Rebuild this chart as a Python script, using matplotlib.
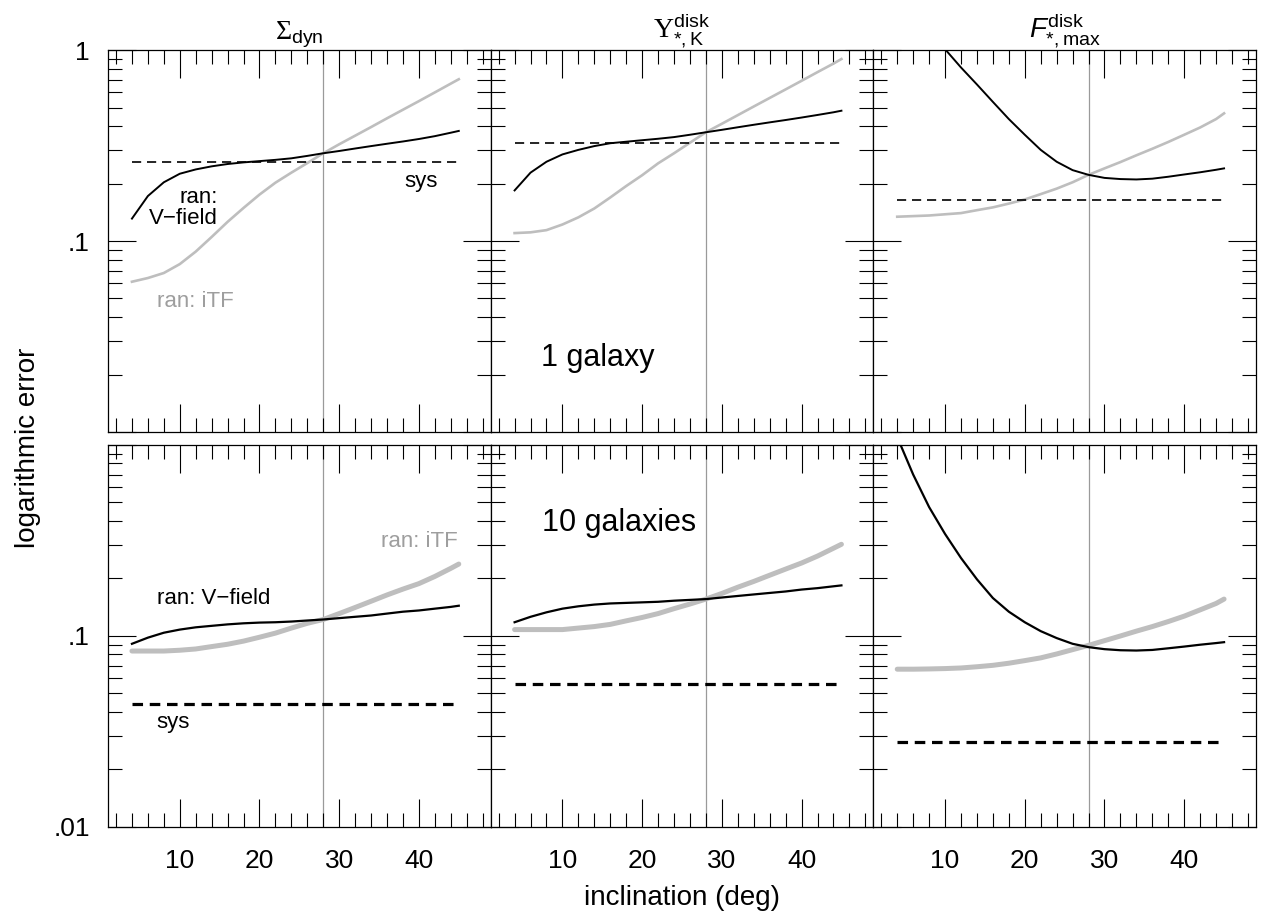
import numpy as np
import matplotlib
matplotlib.use('Agg')
import matplotlib.pyplot as plt
from matplotlib.ticker import MultipleLocator, LogLocator, FuncFormatter, NullFormatter

plt.rcParams['font.family'] = ['Liberation Sans', 'DejaVu Sans']
plt.rcParams['mathtext.fontset'] = 'custom'
plt.rcParams['mathtext.rm'] = 'Liberation Sans'
plt.rcParams['mathtext.it'] = 'Liberation Sans:italic'
plt.rcParams['mathtext.sf'] = 'Liberation Serif'

# inclination grid (deg)
incl = [4, 6, 8, 10, 12, 14, 16, 18, 20, 22, 24, 26, 28, 30, 32, 34, 36, 38, 40, 42, 44, 45]

# --- 1 galaxy (top row) ---
sig_vf_1 = [.131, .172, .203, .225, .237, .246, .253, .258, .262, .266, .271, .279,
            .288, .296, .305, .314, .323, .332, .342, .354, .369, .377]
sig_itf_1 = [.0612, .064, .068, .0757, .088, .105, .126, .149, .175, .202, .228, .256,
             .288, .321, .356, .395, .439, .487, .54, .60, .667, .703]
ups_vf_1 = [.184, .228, .26, .284, .30, .314, .325, .331, .337, .343, .35, .36,
            .371, .382, .394, .406, .418, .43, .443, .457, .472, .481]
ups_itf_1 = [.11, .111, .114, .122, .133, .148, .169, .194, .221, .255, .288, .327,
             .371, .411, .456, .506, .561, .622, .69, .766, .849, .897]
f_vf_1 = [3.3, 2.1, 1.42, 1.01, .81, .66, .535, .435, .36, .30, .26, .235,
          .222, .214, .211, .21, .212, .217, .223, .229, .236, .24]
f_itf_1 = [.134, .135, .136, .138, .14, .145, .15, .157, .165, .176, .188, .203,
           .222, .24, .259, .281, .304, .33, .36, .393, .435, .466]
sys_1 = [.258, .327, .164]

# --- 10 galaxies (bottom row) ---
sig_vf_10 = [.091, .098, .104, .108, .111, .113, .115, .1165, .1175, .118, .119, .1205,
             .122, .124, .126, .128, .131, .134, .136, .139, .142, .144]
sig_itf_10 = [.0834, .0834, .0834, .0842, .0855, .088, .0905, .094, .0985, .1035, .11, .1165,
              .122, .131, .141, .152, .164, .176, .188, .205, .226, .238]
ups_vf_10 = [.118, .126, .133, .139, .143, .146, .148, .149, .15, .151, .153, .1545,
             .156, .159, .162, .165, .168, .171, .175, .178, .182, .184]
ups_itf_10 = [.108, .108, .108, .108, .11, .112, .115, .12, .125, .131, .139, .147,
              .156, .167, .18, .193, .208, .224, .241, .262, .288, .302]
f_vf_10 = [1.1, .70, .473, .342, .256, .198, .158, .134, .118, .106, .0975, .091,
           .0874, .0853, .0842, .0839, .0845, .0862, .088, .09, .0918, .0928]
f_itf_10 = [.067, .067, .0672, .0675, .068, .069, .0702, .072, .0743, .0768, .0805, .0848,
            .0893, .0945, .10, .106, .112, .119, .127, .137, .148, .156]
sys_10 = [.044, .0559, .028]

titles = [r'$\mathsf{\Sigma}_{\rm dyn}$',
          r'$\mathsf{\Upsilon}_{*,\rm K}^{\rm disk}$',
          r'$F_{*,\rm max}^{\rm disk}$']
i_ref = 28

rows = [
    ([sig_vf_1, ups_vf_1, f_vf_1], [sig_itf_1, ups_itf_1, f_itf_1], sys_1),
    ([sig_vf_10, ups_vf_10, f_vf_10], [sig_itf_10, ups_itf_10, f_itf_10], sys_10),
]

fig, axes = plt.subplots(2, 3, figsize=(12.68, 9.21), dpi=100)
fig.subplots_adjust(left=0.0852, right=0.9905, top=0.9457, bottom=0.1021,
                    wspace=0, hspace=0.034)

grey = '#bebebe'

def ylab_top(v, pos):
    return {1.0: '1', 0.1: '.1'}.get(round(v, 3), '')

def ylab_bot(v, pos):
    return {0.1: '.1', 0.01: '.01'}.get(round(v, 3), '')

for r, (vf, itf, sysv) in enumerate(rows):
    for c in range(3):
        ax = axes[r, c]
        ax.set_yscale('log')
        ax.axvline(i_ref, color='#9a9a9a', lw=0.9, zorder=1)
        if r == 0:
            ax.plot(incl, itf[c], color=grey, lw=1.9, zorder=2)
            ax.plot(incl, vf[c], color='black', lw=1.4, zorder=3)
            ax.plot([incl[0], incl[-1]], [sysv[c]] * 2, color='black', lw=1.2,
                    dashes=(5.5, 3.5), zorder=3)
        else:
            ax.plot(incl, itf[c], color=grey, lw=3.6, solid_capstyle='round', zorder=2)
            ax.plot(incl, vf[c], color='black', lw=1.6, zorder=3)
            ax.plot([incl[0], incl[-1]], [sysv[c]] * 2, color='black', lw=2.3,
                    dashes=(3.3, 2.1), zorder=3)
        ax.set_xlim(1, 49)
        ax.set_ylim(0.01, 1)
        ax.xaxis.set_major_locator(MultipleLocator(10))
        ax.xaxis.set_minor_locator(MultipleLocator(2))
        ax.yaxis.set_major_locator(LogLocator(base=10))
        ax.yaxis.set_minor_locator(LogLocator(base=10, subs=np.arange(2, 10)))
        ax.yaxis.set_minor_formatter(NullFormatter())
        ax.yaxis.set_major_formatter(FuncFormatter(ylab_top if r == 0 else ylab_bot))
        ax.tick_params(which='both', direction='in', top=True, right=True, width=0.8)
        ax.tick_params(which='major', length=20)
        ax.tick_params(which='minor', length=10)
        ax.tick_params(axis='y', labelsize=19, pad=13, labelleft=(c == 0))
        ax.tick_params(axis='x', labelsize=19, pad=16, labelbottom=(r == 1))
        for s in ax.spines.values():
            s.set_linewidth(0.9)
        if r == 0:
            ax.set_title(titles[c], fontsize=20, pad=6)

# annotations
ax = axes[0, 0]
ax.text(14.8, 0.149, 'ran:\nV\u2212field', ha='right', va='center', fontsize=16,
        linespacing=1.0, multialignment='right')
ax.text(40.3, 0.204, 'sys', ha='center', va='center', fontsize=16)
ax.text(11.9, 0.048, 'ran: iTF', ha='center', va='center', fontsize=16, color='#9e9e9e')
axes[0, 1].text(14.4, 0.0244, '1 galaxy', ha='center', va='center', fontsize=22)

ax = axes[1, 0]
ax.text(14.2, 0.158, 'ran: V\u2212field', ha='center', va='center', fontsize=16)
ax.text(9.2, 0.0352, 'sys', ha='center', va='center', fontsize=16)
ax.text(40.0, 0.312, 'ran: iTF', ha='center', va='center', fontsize=16, color='#9e9e9e')
axes[1, 1].text(17.1, 0.392, '10 galaxies', ha='center', va='center', fontsize=22)

fig.text(0.022, 0.514, 'logarithmic error', rotation=90, ha='center', va='center', fontsize=20)
fig.text(0.538, 0.025, 'inclination (deg)', ha='center', va='center', fontsize=20)

plt.savefig('out.png', dpi=100)
